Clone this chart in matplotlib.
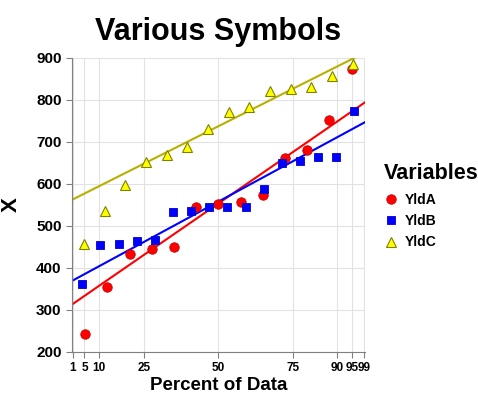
import matplotlib
matplotlib.use('Agg')
import matplotlib.pyplot as plt

plt.rcParams['font.family'] = ['Liberation Sans', 'DejaVu Sans']
plt.rcParams['font.weight'] = 'bold'

# values, plotted at (i - 0.3) / (n + 0.4) percent
yld_a = [244, 355, 433, 445, 451, 546, 552, 557, 573, 663, 681, 753, 874]
yld_b = [363, 455, 458, 464, 466, 533, 536, 545, 546, 546, 587, 650, 654, 664, 664, 773]
yld_c = [457, 535, 597, 653, 669, 689, 732, 771, 784, 821, 826, 830, 857, 886]

# fitted lines: value at 1% and at 99%
fit_a = [314, 793]
fit_b = [370, 746]
fit_c = [563, 912]
fit_x = [0.8, 99.3]

pct_ticks = [1, 5, 10, 25, 50, 75, 90, 95, 99]
y_ticks = [200, 300, 400, 500, 600, 700, 800, 900]


def positions(n):
    return [(i - 0.3) / (n + 0.4) * 100 for i in range(1, n + 1)]


def line_vals(fit):
    slope = (fit[1] - fit[0]) / 98.0
    return [fit[0] + slope * (x - 1) for x in fit_x]


fig = plt.figure(figsize=(4.78, 3.95), dpi=100)
ax = fig.add_axes([0.1506, 0.1089, 0.6130, 0.7443])

ax.plot(fit_x, line_vals(fit_a), color='#ff0000', lw=1.5, zorder=2)
ax.plot(fit_x, line_vals(fit_b), color='#0000ff', lw=1.5, zorder=2)
ax.plot(fit_x, line_vals(fit_c), color='#b8b000', lw=1.5, zorder=2)

ax.plot(positions(len(yld_a)), yld_a, 'o', color='#ff0000', mec='#cc0000',
        mew=0.6, ms=6.8, ls='none', label='YldA', zorder=3)
ax.plot(positions(len(yld_b)), yld_b, 's', color='#0000ff', mec='#0000cc',
        mew=0.6, ms=5.8, ls='none', label='YldB', zorder=3)
ax.plot(positions(len(yld_c)), yld_c, '^', color='#ffff00', mec='#808000',
        mew=0.8, ms=7, ls='none', label='YldC', zorder=3)

ax.set_xlim(0.8, 99.3)
ax.set_ylim(200, 900)
ax.set_xticks(pct_ticks)
ax.set_xticklabels([str(t) for t in pct_ticks], fontsize=8.5, fontweight='bold')
ax.set_yticks(y_ticks)
ax.set_yticklabels([str(t) for t in y_ticks], fontsize=11, fontweight='bold')
ax.grid(True, color='#e2e2e2', lw=0.8)
ax.set_axisbelow(True)
for s in ['top', 'right']:
    ax.spines[s].set_visible(False)
for s in ['left', 'bottom']:
    ax.spines[s].set_color('#808080')
ax.tick_params(colors='#808080', length=4, width=0.8, labelcolor='black')

ax.set_xlabel('Percent of Data', fontsize=13.5, fontweight='bold', labelpad=2)
ax.set_ylabel('X', fontsize=16, fontweight='bold', labelpad=10)
ax.set_title('Various Symbols', fontsize=22, fontweight='bold', pad=13)

leg = fig.legend(loc='upper left', bbox_to_anchor=(374 / 478, 1 - 155 / 395),
                 frameon=False, fontsize=10, title='Variables',
                 title_fontproperties={'size': 15.5, 'weight': 'bold'},
                 alignment='left', handletextpad=0.5, labelspacing=0.52,
                 handlelength=1.0, borderpad=0.2)
leg.get_title().set_position((0, 2))

fig.savefig('out.png', dpi=100)
